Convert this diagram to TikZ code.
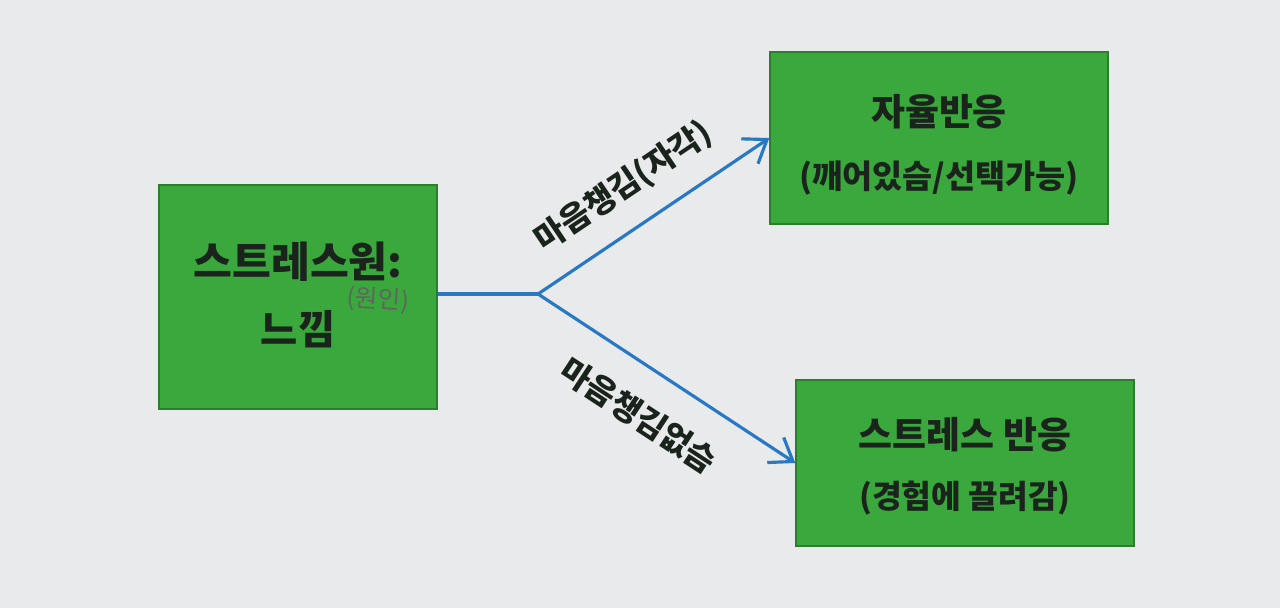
\documentclass[tikz,border=0pt]{standalone}
\usepackage{fontspec}
\setmainfont{Noto Sans CJK KR}
\usetikzlibrary{arrows.meta}

\definecolor{vert}{RGB}{58,168,60}
\definecolor{bleu}{RGB}{40,120,198}
\definecolor{fond}{RGB}{233,234,235}
\definecolor{encre}{RGB}{26,36,28}

\begin{document}
\begin{tikzpicture}[
    boite/.style={draw=vert!75!black, line width=0.4pt, fill=vert, inner sep=0pt},
    texte/.style={text=encre, align=center, font=\bfseries, inner sep=0pt},
    fleche/.style={draw=bleu, line width=0.9pt, -{Straight Barb[length=2.1mm,width=3mm]}},
    etiq/.style={text=encre, font=\bfseries\fontsize{9.2}{11}\selectfont, sloped}
  ]
        % Fond
        \fill[fond] (0,0) rectangle (12.8,6.08);

        % Boites
        \node[boite, minimum width=2.78cm, minimum height=2.24cm] (source) at (2.98,3.11) {};
        \node[boite, minimum width=3.38cm, minimum height=1.72cm] (auto) at (9.39,4.70) {};
        \node[boite, minimum width=3.38cm, minimum height=1.66cm] (stress) at (9.65,1.45) {};

        % Textes des boites
        \node[texte] (sourcetxt) at (2.98,3.13)
          {{\fontsize{12}{14}\selectfont 스트레스원:}\\[7pt]{\fontsize{11.5}{13}\selectfont 느낌}};
        \node[texte] (autotxt) at (9.39,4.63)
          {{\fontsize{10.5}{12}\selectfont 자율반응}\\[6pt]{\fontsize{9.3}{11}\selectfont (깨어있슴/선택가능)}};
        \node[texte] (stresstxt) at (9.65,1.42)
          {{\fontsize{10.5}{12}\selectfont 스트레스 반응}\\[5pt]{\fontsize{9.2}{11}\selectfont (경험에 끌려감)}};

        % Note manuscrite
        \node[text=encre!70, font=\fontsize{7}{8}\selectfont, rotate=-4] (note) at (3.78,3.08) {(원인)};

        % Embranchement
        \coordinate (fourche) at (5.38,3.14);
        \draw[bleu, line width=0.9pt] (source.east |- fourche) -- (fourche);
        \draw[fleche] (fourche) -- node[etiq, above=3pt, pos=0.47] (lbl1) {마음챙김(자각)} (auto.west);
        \draw[fleche] (fourche) -- node[etiq, below=5pt, pos=0.49] (lbl2) {마음챙김없슴} (stress.west);
\end{tikzpicture}
\end{document}
